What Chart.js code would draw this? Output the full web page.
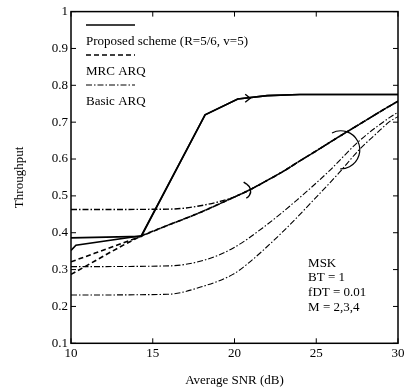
<!DOCTYPE html>
<html>
<head>
<meta charset="utf-8">
<script src="https://cdn.jsdelivr.net/npm/chart.js@4"></script>
<style>
html,body{margin:0;padding:0;background:#fff;overflow:hidden;}
#wrap{width:420px;height:392px;}
</style>
</head>
<body>
<div id="wrap"><canvas id="c" width="420" height="392"></canvas></div>
<script>
// ---- data ----
const xTicks = [10, 15, 20, 25, 30];
const yTicks = [0.1, 0.2, 0.3, 0.4, 0.5, 0.6, 0.7, 0.8, 0.9, 1];

// Proposed scheme (solid), M = 2,3,4
const snrP1 = [10, 14.3, 18.2, 20.2, 22, 24, 30];
const tputP1 = [0.386, 0.390, 0.720, 0.763, 0.772, 0.775, 0.775];
const snrP2 = [10, 10.3, 14.3, 18.2, 20.2, 22, 24, 30];
const tputP2 = [0.352, 0.366, 0.392, 0.720, 0.763, 0.772, 0.775, 0.775];

// MRC ARQ (dashed)
const snrM1 = [10, 14.3, 15.8, 17.9, 19.5, 21, 22, 23, 24, 25, 26, 27, 28, 29, 30];
const tputM1 = [0.321, 0.391, 0.418, 0.455, 0.487, 0.518, 0.542, 0.567, 0.595, 0.622, 0.650, 0.677, 0.704, 0.731, 0.757];
const snrM2 = [10, 14.3, 15.8, 17.9, 19.5, 21, 22, 23, 24, 25, 26, 27, 28, 29, 30];
const tputM2 = [0.287, 0.391, 0.418, 0.455, 0.487, 0.518, 0.542, 0.567, 0.595, 0.622, 0.650, 0.677, 0.704, 0.731, 0.757];

// Basic ARQ (dash-dot)
const snrB1 = [10, 16, 18, 20, 21, 22, 23, 24, 25, 26, 27, 28, 29, 30];
const tputB1 = [0.463, 0.464, 0.474, 0.497, 0.518, 0.542, 0.567, 0.595, 0.622, 0.650, 0.677, 0.704, 0.731, 0.757];
const snrB2 = [10, 16, 18.1, 19.9, 21.75, 23.8, 25.8, 27.6, 29.5, 30];
const tputB2 = [0.308, 0.310, 0.325, 0.358, 0.414, 0.488, 0.568, 0.648, 0.713, 0.727];
const snrB3 = [10, 15.9, 18.1, 19.9, 20.75, 22.8, 24.8, 26.4, 27.6, 28.7, 29.5, 30];
const tputB3 = [0.231, 0.233, 0.255, 0.287, 0.314, 0.396, 0.487, 0.563, 0.624, 0.670, 0.702, 0.715];

const legendLabels = ['Proposed scheme (R=5/6, v=5)', 'MRC ARQ', 'Basic ARQ'];
const infoLines = ['MSK', 'BT = 1', 'fDT = 0.01', 'M = 2,3,4'];
const xTitle = 'Average SNR (dB)';
const yTitle = 'Throughput';

// ---- styles ----
const FONT = "'Liberation Serif', 'Times New Roman', serif";
const DASH_SOLID = [];
const DASH_MRC = [5, 3];
const DASH_BASIC = [6, 2, 1.5, 2];

function pts(xs, ys){ return xs.map((v,i)=>({x:v, y:ys[i]})); }
function ds(label, xs, ys, dash, w, smooth){
  return {label, data: pts(xs, ys), borderColor:'#000', borderWidth:w, borderDash:dash,
    pointRadius:0, fill:false, tension: smooth?0.35:0, cubicInterpolationMode: smooth?'monotone':'default'};
}

const datasets = [
  ds('Basic ARQ M=2', snrB1, tputB1, DASH_BASIC, 1.4, true),
  ds('Basic ARQ M=3', snrB2, tputB2, DASH_BASIC, 1.1, true),
  ds('Basic ARQ M=4', snrB3, tputB3, DASH_BASIC, 1.1, true),
  ds('MRC ARQ M=3', snrM1, tputM1, DASH_MRC, 1.6, true),
  ds('MRC ARQ M=4', snrM2, tputM2, DASH_MRC, 1.6, true),
  ds('Proposed M=2', snrP1, tputP1, DASH_SOLID, 1.6, false),
  ds('Proposed M=3', snrP2, tputP2, DASH_SOLID, 1.6, false)
];

const deco = {
  id:'deco',
  afterDatasetsDraw(chart){
    const {ctx, chartArea:a, scales:{x, y}} = chart;
    ctx.save();
    ctx.strokeStyle = '#000'; ctx.fillStyle = '#000';
    ctx.setLineDash([]);
    // frame
    ctx.lineWidth = 1.5;
    ctx.strokeRect(a.left, a.top, a.right - a.left, a.bottom - a.top);
    // inward ticks
    ctx.lineWidth = 1;
    const L = 5;
    ctx.beginPath();
    xTicks.forEach(v=>{ const p = x.getPixelForValue(v);
      ctx.moveTo(p, a.bottom); ctx.lineTo(p, a.bottom - L);
      ctx.moveTo(p, a.top); ctx.lineTo(p, a.top + L); });
    yTicks.forEach(v=>{ const p = y.getPixelForValue(v);
      ctx.moveTo(a.left, p); ctx.lineTo(a.left + L, p);
      ctx.moveTo(a.right, p); ctx.lineTo(a.right - L, p); });
    ctx.stroke();

    // chevron on proposed curve
    ctx.lineWidth = 1.4;
    const cx = x.getPixelForValue(20.9), cy = y.getPixelForValue(0.765);
    ctx.beginPath();
    ctx.moveTo(cx - 4, cy - 4); ctx.lineTo(cx + 1, cy); ctx.lineTo(cx - 4, cy + 4);
    ctx.stroke();

    // small arc near 21 dB
    const a1x = x.getPixelForValue(20.5), a1y = y.getPixelForValue(0.513);
    ctx.beginPath();
    ctx.arc(a1x, a1y, 8, -1.0, 1.1);
    ctx.stroke();
    ctx.beginPath();
    ctx.moveTo(a1x + 4.3, a1y - 6.7); ctx.lineTo(a1x + 1, a1y - 9);
    ctx.stroke();

    // large arc near 27 dB
    const a2x = x.getPixelForValue(26.5), a2y = y.getPixelForValue(0.625);
    ctx.lineWidth = 1.2;
    ctx.beginPath();
    ctx.arc(a2x, a2y, 19, -2.05, 1.6);
    ctx.stroke();

    // legend (sample line above text)
    ctx.font = '13px ' + FONT;
    ctx.textBaseline = 'middle';
    ctx.textAlign = 'left';
    const lx0 = a.left + 15, lx1 = a.left + 64;
    const dashes = [DASH_SOLID, DASH_MRC, DASH_BASIC];
    const widths = [1.5, 1.3, 1.0];
    legendLabels.forEach((t, i)=>{
      const ly = a.top + 13.4 + i*30;
      ctx.setLineDash(dashes[i]); ctx.lineWidth = widths[i];
      ctx.beginPath(); ctx.moveTo(lx0, ly); ctx.lineTo(lx1, ly); ctx.stroke();
      ctx.setLineDash([]);
      ctx.fillText(t, lx0, ly + 16.5);
    });

    // info block
    ctx.font = '13px ' + FONT;
    const ix = x.getPixelForValue(24.5), iy0 = y.getPixelForValue(0.317);
    infoLines.forEach((t, i)=>{ ctx.fillText(t, ix, iy0 + i*14.7); });
    ctx.restore();
  }
};

new Chart(document.getElementById('c'), {
  type:'line',
  data:{ datasets },
  options:{
    responsive:false, animation:false, parsing:true,
    layout:{ padding:{ left:0, right:22, top:11.6, bottom:0 } },
    plugins:{ legend:{display:false}, tooltip:{enabled:false} },
    scales:{
      x:{ type:'linear', min:10, max:30,
        afterBuildTicks: s => { s.ticks = xTicks.map(v=>({value:v})); },
        afterFit: s => { s.height = 48.7; },
        grid:{ display:false, drawTicks:false }, border:{display:false},
        ticks:{ color:'#000', font:{family:FONT, size:13}, padding:2, maxRotation:0 },
        title:{ display:true, text:xTitle, color:'#000', font:{family:FONT, size:13}, padding:{top:0,bottom:4} }
      },
      y:{ type:'linear', min:0.1, max:1,
        afterBuildTicks: s => { s.ticks = yTicks.map(v=>({value:v})); },
        afterFit: s => { s.width = 71; },
        grid:{ display:false, drawTicks:false }, border:{display:false},
        ticks:{ color:'#000', font:{family:FONT, size:13}, padding:3,
          callback: v => (Math.round(v*10)/10).toString() },
        title:{ display:true, text:yTitle, color:'#000', font:{family:FONT, size:13}, padding:{top:12,bottom:0} }
      }
    }
  },
  plugins:[deco]
});
</script>
</body>
</html>
